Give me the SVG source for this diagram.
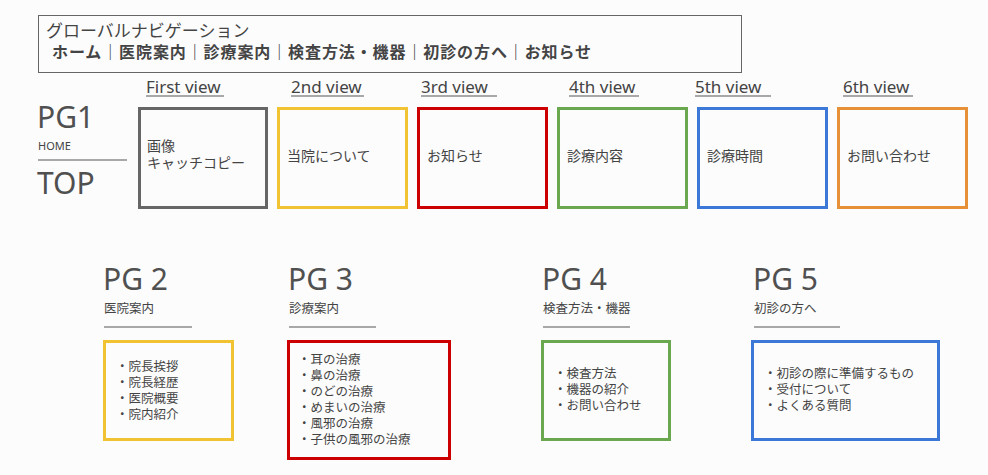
<svg xmlns="http://www.w3.org/2000/svg" width="988" height="475" viewBox="0 0 988 475">
<style>
text{font-family:"Liberation Sans","Noto Sans CJK JP",sans-serif;fill:#444;}
.lat{font-family:"Noto Sans","Open Sans","Noto Sans CJK JP",sans-serif;}
.big{font-size:30px;font-family:"Noto Sans","Open Sans",sans-serif;fill:#505050;}
.vl{font-size:17px;}
.bt{font-size:14px;}
.it{font-size:12.5px;}
.sub{font-size:12.5px;}
.box{fill:none;stroke-width:3;}
.ul{stroke:#555;stroke-width:1;}
</style>
<rect width="988" height="475" fill="#fcfcfc"/>
<g id="nav">
<rect x="38.5" y="15.5" width="703" height="57" fill="none" stroke="#666" stroke-width="1"/>
<text x="46" y="37" font-size="17">グローバルナビゲーション</text>
<text x="52" y="58" font-size="16" font-weight="bold" fill="#333" letter-spacing="0.9">ホーム｜医院案内｜診療案内｜検査方法・機器｜初診の方へ｜お知らせ</text>
</g>
<g id="pg1">
<text class="big" x="37" y="128">PG1</text>
<text class="lat" x="38" y="150" font-size="11">HOME</text>
<line class="ul" x1="38" y1="160" x2="127" y2="160"/>
<text class="big" x="37" y="194" font-size="31">TOP</text>
</g>
<g id="view1">
<text class="vl lat" x="146" y="93">First view</text>
<line class="ul" x1="146" y1="96" x2="224" y2="96"/>
<rect class="box" x="139.5" y="108.5" width="127" height="99" stroke="#666"/>
<text class="bt" x="147" y="151">画像</text>
<text class="bt" x="147" y="168">キャッチコピー</text>
</g>
<g id="view2">
<text class="vl lat" x="291" y="93">2nd view</text>
<line class="ul" x1="291" y1="96" x2="364" y2="96"/>
<rect class="box" x="278.5" y="108.5" width="128" height="99" stroke="#f1c232"/>
<text class="bt" x="287" y="161">当院について</text>
</g>
<g id="view3">
<text class="vl lat" x="421" y="93">3rd view</text>
<line class="ul" x1="421" y1="96" x2="497" y2="96"/>
<rect class="box" x="418.5" y="108.5" width="128" height="99" stroke="#cc0000"/>
<text class="bt" x="427" y="161">お知らせ</text>
</g>
<g id="view4">
<text class="vl lat" x="569" y="93">4th view</text>
<line class="ul" x1="569" y1="96" x2="639" y2="96"/>
<rect class="box" x="558.5" y="108.5" width="128" height="99" stroke="#6aa84f"/>
<text class="bt" x="567" y="161">診療内容</text>
</g>
<g id="view5">
<text class="vl lat" x="695" y="93">5th view</text>
<line class="ul" x1="695" y1="96" x2="771" y2="96"/>
<rect class="box" x="698.5" y="108.5" width="128" height="99" stroke="#3c78d8"/>
<text class="bt" x="707" y="161">診療時間</text>
</g>
<g id="view6">
<text class="vl lat" x="843" y="93">6th view</text>
<line class="ul" x1="843" y1="96" x2="913" y2="96"/>
<rect class="box" x="838.5" y="108.5" width="128" height="99" stroke="#e69138"/>
<text class="bt" x="847" y="161">お問い合わせ</text>
</g>
<g id="pg2">
<text class="big" x="103" y="290">PG 2</text>
<text class="sub" x="104" y="313">医院案内</text>
<line class="ul" x1="104" y1="327" x2="192" y2="327"/>
<rect class="box" x="104.5" y="341.5" width="128" height="98" stroke="#f1c232"/>
<text class="it" x="116" y="371">・院長挨拶</text>
<text class="it" x="116" y="387">・院長経歴</text>
<text class="it" x="116" y="403">・医院概要</text>
<text class="it" x="116" y="419">・院内紹介</text>
</g>
<g id="pg3">
<text class="big" x="288" y="290">PG 3</text>
<text class="sub" x="289" y="313">診療案内</text>
<line class="ul" x1="289" y1="327" x2="376" y2="327"/>
<rect class="box" x="288.5" y="341.5" width="161" height="117" stroke="#cc0000"/>
<text class="it" x="298" y="364">・耳の治療</text>
<text class="it" x="298" y="380">・鼻の治療</text>
<text class="it" x="298" y="396">・のどの治療</text>
<text class="it" x="298" y="412">・めまいの治療</text>
<text class="it" x="298" y="428">・風邪の治療</text>
<text class="it" x="298" y="444">・子供の風邪の治療</text>
</g>
<g id="pg4">
<text class="big" x="542" y="290">PG 4</text>
<text class="sub" x="543" y="313">検査方法・機器</text>
<line class="ul" x1="543" y1="327" x2="630" y2="327"/>
<rect class="box" x="542.5" y="341.5" width="127" height="98" stroke="#6aa84f"/>
<text class="it" x="554" y="378">・検査方法</text>
<text class="it" x="554" y="394">・機器の紹介</text>
<text class="it" x="554" y="410">・お問い合わせ</text>
</g>
<g id="pg5">
<text class="big" x="753" y="290">PG 5</text>
<text class="sub" x="754" y="313">初診の方へ</text>
<line class="ul" x1="754" y1="327" x2="840" y2="327"/>
<rect class="box" x="752.5" y="341.5" width="186" height="98" stroke="#3c78d8"/>
<text class="it" x="764" y="378">・初診の際に準備するもの</text>
<text class="it" x="764" y="394">・受付について</text>
<text class="it" x="764" y="410">・よくある質問</text>
</g>
<g id="connectors"></g>
</svg>
